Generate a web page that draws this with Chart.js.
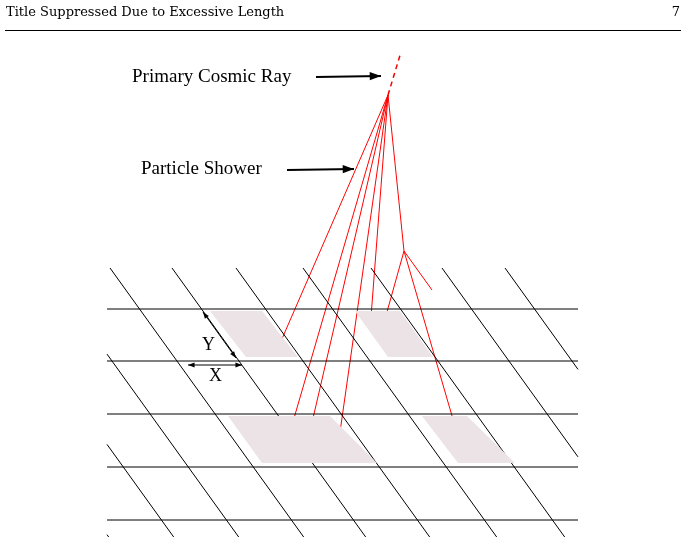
<!DOCTYPE html>
<html>
<head>
<meta charset="utf-8">
<script src="https://cdn.jsdelivr.net/npm/chart.js@4"></script>
<style>
  body { margin: 0; background: #fff; }
  canvas { display: block; }
</style>
</head>
<body>
<canvas id="diagram" width="686" height="543"></canvas>
<script>
// grid: horizontal rows and diagonal intercepts (x where a diagonal meets y = 268)
const rowYs = [309, 361, 414, 467, 520];
const gridLeft = 107, gridRight = 578, gridTop = 268, gridBottom = 537;
const diagIntercepts = [-150, -85, -20, 45, 110, 172, 236, 303, 371, 442, 505];
const diagSlope = 0.72; // dx per dy

// shaded detector cells (corners)
const cells = [
  [[210, 311], [262, 311], [298, 357], [246, 357]],
  [[355, 311], [400, 311], [433, 357], [388, 357]],
  [[228, 416], [330, 416], [377, 463], [262, 463]],
  [[422, 416], [467, 416], [515, 463], [458, 463]]
];

// shower tracks
const showerOrigin = [388, 95];
const primaryTop = [401, 52];
const showerEnds = [[278, 348], [283, 456], [304, 457], [340, 432], [370, 330], [404, 251]];
const branchOrigin = [404, 251];
const branchEnds = [[380, 337], [432, 290], [457, 433]];

// annotations
const labels = [
  { text: 'Primary Cosmic Ray', x: 132, y: 77, size: 19 },
  { text: 'Particle Shower', x: 141, y: 169, size: 19 },
  { text: 'Y', x: 202, y: 345, size: 18 },
  { text: 'X', x: 209, y: 376, size: 18 }
];
const arrows = [
  { from: [316, 77], to: [381, 76], heads: 1 },
  { from: [287, 170], to: [354, 169], heads: 1 },
  { from: [203, 312], to: [236, 358], heads: 2 },
  { from: [188, 365], to: [242, 365], heads: 2 }
];

const datasets = [];
const seg = (a, b, color, extra) => datasets.push(Object.assign({
  data: [{ x: a[0], y: a[1] }, { x: b[0], y: b[1] }],
  showLine: true, borderColor: color, borderWidth: 1, pointRadius: 0, fill: false
}, extra || {}));

cells.forEach(c => {
  datasets.push({
    data: c.concat([c[0]]).map(p => ({ x: p[0], y: p[1] })),
    showLine: true, borderWidth: 0, borderColor: 'rgba(0,0,0,0)',
    backgroundColor: '#ebe3e5', pointRadius: 0, fill: 'shape'
  });
});

rowYs.forEach(y => seg([gridLeft, y], [gridRight, y], '#000'));

diagIntercepts.forEach(c => {
  // clip the diagonal to the grid box
  let y0 = gridTop, x0 = c;
  if (x0 < gridLeft) { y0 = gridTop + (gridLeft - c) / diagSlope; x0 = gridLeft; }
  let y1 = gridBottom, x1 = c + diagSlope * (gridBottom - gridTop);
  if (x1 > gridRight) { y1 = gridTop + (gridRight - c) / diagSlope; x1 = gridRight; }
  if (y0 < y1) seg([x0, y0], [x1, y1], '#000');
});

seg(showerOrigin, primaryTop, '#e00', { borderDash: [5, 4], borderWidth: 1.5 });
showerEnds.forEach(e => seg(showerOrigin, e, '#f00'));
branchEnds.forEach(e => seg(branchOrigin, e, '#f00'));

const decorations = {
  id: 'decorations',
  afterDatasetsDraw(chart) {
    const ctx = chart.ctx;
    const sx = v => chart.scales.x.getPixelForValue(v);
    const sy = v => chart.scales.y.getPixelForValue(v);
    ctx.save();
    // running header
    ctx.fillStyle = '#000';
    ctx.textBaseline = 'middle';
    ctx.font = '13px "DejaVu Serif", "Liberation Serif", serif';
    ctx.fillText('Title Suppressed Due to Excessive Length', 6, 13);
    ctx.textAlign = 'right';
    ctx.fillText('7', 680, 13);
    ctx.textAlign = 'left';
    ctx.beginPath();
    ctx.moveTo(5, 30.5); ctx.lineTo(681, 30.5);
    ctx.lineWidth = 1; ctx.strokeStyle = '#000'; ctx.stroke();

    labels.forEach(l => {
      ctx.font = l.size + 'px "Liberation Serif", "Times New Roman", serif';
      ctx.fillText(l.text, sx(l.x), sy(l.y));
    });

    const head = (tip, ang, size) => {
      ctx.beginPath();
      ctx.moveTo(tip[0], tip[1]);
      ctx.lineTo(tip[0] - size * Math.cos(ang - 0.35), tip[1] - size * Math.sin(ang - 0.35));
      ctx.lineTo(tip[0] - size * Math.cos(ang + 0.35), tip[1] - size * Math.sin(ang + 0.35));
      ctx.closePath(); ctx.fill();
    };
    arrows.forEach(a => {
      const p0 = [sx(a.from[0]), sy(a.from[1])];
      const p1 = [sx(a.to[0]), sy(a.to[1])];
      const ang = Math.atan2(p1[1] - p0[1], p1[0] - p0[0]);
      ctx.beginPath();
      ctx.moveTo(p0[0], p0[1]); ctx.lineTo(p1[0], p1[1]);
      ctx.lineWidth = a.heads === 1 ? 2 : 1; ctx.stroke();
      const size = a.heads === 1 ? 12 : 7;
      head(p1, ang, size);
      if (a.heads === 2) head(p0, ang + Math.PI, size);
    });
    ctx.restore();
  }
};

new Chart(document.getElementById('diagram').getContext('2d'), {
  type: 'scatter',
  data: { datasets: datasets },
  options: {
    responsive: false,
    animation: false,
    layout: { padding: 0 },
    plugins: { legend: { display: false }, tooltip: { enabled: false } },
    scales: {
      x: { type: 'linear', min: 0, max: 686, display: false },
      y: { type: 'linear', min: 0, max: 543, reverse: true, display: false }
    }
  },
  plugins: [decorations]
});
</script>
</body>
</html>
